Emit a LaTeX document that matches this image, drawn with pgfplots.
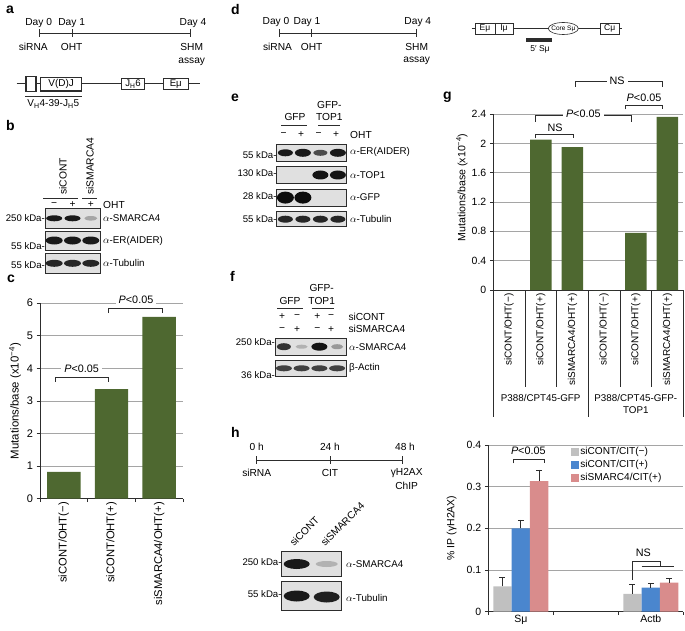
\documentclass[border=0pt]{standalone}
\usepackage{pgfplots}
\pgfplotsset{compat=1.18}
\usepackage{fontspec}
\setmainfont{Liberation Sans}
\setsansfont{Liberation Sans}

\definecolor{barg}{RGB}{78,104,48}
\definecolor{bgray}{RGB}{192,192,192}
\definecolor{bblue}{RGB}{74,134,206}
\definecolor{bpink}{RGB}{217,140,140}
\definecolor{gridc}{RGB}{165,165,165}
\definecolor{ink}{RGB}{45,45,45}

\newcommand\fs[1]{\fontsize{#1}{#1}\selectfont}
% blot box and band (x, y, x radius, y radius, darkness)
\newcommand\blot[4]{\draw[ink, line width=0.7pt, fill=black!12] (#1,#2) rectangle (#3,#4);}
\newcommand\band[5]{\fill[black!#5] (#1,#2) ellipse [x radius=#3pt, y radius=#4pt];}
\newcommand\brk[5]{\draw[ink, line width=0.8pt] (#1,#4) -- (#1,#3) -- (#2,#3) -- (#2,#5);}

\pgfplotsset{
  panel/.style={
    scale only axis, anchor=south west,
    axis x line*=bottom, axis y line*=left,
    ymajorgrids, grid style={draw=gridc, line width=0.6pt},
    axis line style={ink, line width=0.8pt},
    tick style={ink, line width=0.8pt},
    tick align=outside, major tick length=3.5pt,
    /pgf/number format/assume math mode=true,
    xticklabels={}, clip=false,
  },
  errs/.style={error bars/.cd, y dir=plus, y explicit,
    error bar style={ink, line width=0.8pt},
    error mark options={rotate=90, ink, line width=0.8pt, mark size=3pt}},
}

\begin{document}
\begin{tikzpicture}
\path[use as bounding box] (0,0) rectangle (685pt,-631pt);

% ---- c
\begin{axis}[panel, at={(40pt,-498.7pt)}, width=143pt, height=195.6pt,
  xmin=-0.5, xmax=2.5, ymin=0, ymax=6, ytick={0,1,2,3,4,5,6},
  xtick={-0.5,0.5,1.5,2.5},
  extra x ticks={0,1,2},
  extra x tick labels={siCONT/OHT(−),siCONT/OHT(+),siSMARCA4/OHT(+)},
  extra x tick style={major tick length=0pt,
    xticklabel style={rotate=90, anchor=east, font=\fs{11.2}}},
  yticklabel style={font=\fs{11}},
]
\addplot[ybar, bar width=0.7, fill=barg, draw=none]
  coordinates {(0,0.82) (1,3.36) (2,5.58)};
\end{axis}

% ---- g
\begin{axis}[panel, at={(493.3pt,-290pt)}, width=190pt, height=176pt,
  xmin=-0.5, xmax=5.5, ymin=0, ymax=2.4, ytick={0,0.4,0.8,1.2,1.6,2,2.4},
  xtick=\empty,
  extra x ticks={0,1,2,3,4,5},
  extra x tick labels={siCONT/OHT(−),siCONT/OHT(+),siSMARCA4/OHT(+),siCONT/OHT(−),siCONT/OHT(+),siSMARCA4/OHT(+)},
  extra x tick style={major tick length=0pt,
    xticklabel style={rotate=90, anchor=east, font=\fs{10}}},
  yticklabel style={font=\fs{10.5}},
]
\addplot[ybar, bar width=0.68, fill=barg, draw=none]
  coordinates {(0,0) (1,2.05) (2,1.95) (3,0) (4,0.78) (5,2.36)};
\end{axis}

% ---- h
\begin{axis}[panel, at={(488.3pt,-611.7pt)}, width=195pt, height=166.8pt,
  xmin=-0.5, xmax=2.5, ymin=0, ymax=0.4, ytick={0,0.1,0.2,0.3,0.4},
  xtick={-0.5,0.5,1.5,2.5},
  extra x ticks={0,2}, extra x tick labels={Sμ,Actb},
  extra x tick style={major tick length=0pt, xticklabel style={font=\fs{10.5}}},
  yticklabel style={font=\fs{10.5}},
  legend cell align=left,
  legend style={at={(rel axis cs:0.425,0.995)}, anchor=north west,
    draw=none, fill=none, font=\fs{10.1}, inner sep=0pt, row sep=1.2pt,
    nodes={inner sep=1.5pt},
    /tikz/every even column/.append style={column sep=2pt}},
]
\addplot[ybar, bar width=0.282, fill=bgray, draw=none,
  legend image code/.code={\fill[bgray] (0pt,-3.8pt) rectangle (7.5pt,3.8pt);}, errs]
  coordinates {(-0.282,0.061) +- (0,0.021) (1.718,0.0425) +- (0,0.022)};
\addlegendentry{siCONT/CIT(−)}
\addplot[ybar, bar width=0.282, fill=bblue, draw=none,
  legend image code/.code={\fill[bblue] (0pt,-3.8pt) rectangle (7.5pt,3.8pt);}, errs]
  coordinates {(0,0.2) +- (0,0.02) (2,0.058) +- (0,0.01)};
\addlegendentry{siCONT/CIT(+)}
\addplot[ybar, bar width=0.282, fill=bpink, draw=none,
  legend image code/.code={\fill[bpink] (0pt,-3.8pt) rectangle (7.5pt,3.8pt);}, errs]
  coordinates {(0.282,0.313) +- (0,0.027) (2.282,0.07) +- (0,0.009)};
\addlegendentry{siSMARC4/CIT(+)}
\end{axis}

\begin{scope}[x=1pt, y=-1pt, every node/.style={inner sep=0pt, font=\fs{10.2}}]
% panel letters
\foreach \l/\x/\y in {a/6/14, b/6/131, c/7/282, d/231/15, e/231/101.5, f/230/281, g/443/100, h/231/437}
  {\node[anchor=base west, font=\fs{14}\bfseries] at (\x,\y) {\l};}

% ---- a: timeline and locus
\draw[ink, line width=0.8pt] (39.3,33.3) -- (190,33.3);
\foreach \x in {39.3,72.7,190} {\draw[ink, line width=0.8pt] (\x,29.3) -- (\x,37.3);}
\node at (38.7,23.3) {Day 0};
\node at (71.7,23.3) {Day 1};
\node at (193,23.3) {Day 4};
\node at (33.3,46.7) {siRNA};
\node at (71.7,46.7) {OHT};
\node at (191.7,46.7) {SHM};
\node at (191.7,61.7) {assay};
\draw[ink, line width=1.2pt] (16.7,83.7) -- (200,83.7);
\draw[ink, line width=1.3pt, fill=white] (26,76.5) rectangle (36,91.5);
\draw[ink, line width=1.3pt, fill=white] (40.7,77.3) rectangle (81.7,91);
\node[font=\fs{10}] at (61.2,84.2) {V(D)J};
\draw[ink, line width=1.3pt, fill=white] (121.7,78.3) rectangle (144.3,89.3);
\node[font=\fs{9.6}] at (133,84) {J\textsubscript{H}6};
\draw[ink, line width=1.3pt, fill=white] (163.3,78.3) rectangle (188.3,89.3);
\node[font=\fs{9.6}] at (175.8,84) {Eμ};
\draw[ink, line width=1.5pt] (25,96.7) -- (81.7,96.7);
\node[font=\fs{10}] at (53.3,104) {V\textsubscript{H}4-39-J\textsubscript{H}5};

% ---- b: blot
\node[rotate=90, anchor=west, font=\fs{10.3}] at (63,195) {siCONT};
\node[rotate=90, anchor=west, font=\fs{10.3}] at (90,195) {siSMARCA4};
\draw[ink, line width=0.8pt] (43.3,198.3) -- (78.3,198.3);
\draw[ink, line width=0.8pt] (82,198.3) -- (97,198.3);
\node at (54.2,205) {−};
\node at (72.5,205) {+};
\node at (90.8,205) {+};
\node[anchor=west] at (103,205) {OHT};
\blot{45}{208.3}{100}{228.3}
\band{54.2}{218.3}{8}{3}{90}
\band{72.5}{218.3}{8}{3}{90}
\band{90.8}{218.3}{6.5}{2.3}{35}
\blot{45}{231.7}{100}{250}
\foreach \x in {54.2,72.5,90.8} {\band{\x}{240.5}{8.5}{4}{90}}
\blot{45}{253.3}{100}{273.3}
\foreach \x in {54.2,72.5,90.8} {\band{\x}{263.3}{8.5}{3.5}{85}}
\node[anchor=east, font=\fs{9.6}] at (45,218.3) {250 kDa-};
\node[anchor=east, font=\fs{9.6}] at (45,246) {55 kDa-};
\node[anchor=east, font=\fs{9.6}] at (45,265) {55 kDa-};
\node[anchor=west, font=\fs{9.8}] at (103,218.3) {$\alpha$-SMARCA4};
\node[anchor=west, font=\fs{9.8}] at (103,241) {$\alpha$-ER(AIDER)};
\node[anchor=west, font=\fs{9.8}] at (103,263.3) {$\alpha$-Tubulin};

% ---- c: labels and brackets
\node[rotate=90, font=\fs{11.4}] at (15,401) {Mutations/base (x10\textsuperscript{−4})};
\brk{55}{108}{377.3}{381.7}{381.7}
\node[fill=white, inner xsep=3pt, inner ysep=1pt, font=\fs{10.8}] at (81.7,368.3) {\textit{P}<0.05};
\brk{108}{162}{308.3}{313}{313}
\node[fill=white, inner xsep=3pt, inner ysep=1pt, font=\fs{10.8}] at (136,300) {\textit{P}<0.05};

% ---- d: timeline and locus
\draw[ink, line width=0.8pt] (279.3,33.3) -- (416,33.3);
\foreach \x in {279.3,311,416} {\draw[ink, line width=0.8pt] (\x,29.3) -- (\x,37.3);}
\node at (276,21.7) {Day 0};
\node at (307,21.7) {Day 1};
\node at (417.8,21.7) {Day 4};
\node at (277.5,46.7) {siRNA};
\node at (311.7,46.7) {OHT};
\node at (416.7,46.7) {SHM};
\node at (416.7,60.7) {assay};
\draw[ink, line width=0.8pt] (471.7,28.5) -- (621.7,28.5);
\draw[ink, line width=1.7pt] (513.3,28.5) -- (548.3,28.5);
\draw[ink, line width=0.6pt, fill=white] (475,23) rectangle (513.3,34);
\draw[ink, line width=0.6pt] (495,23) -- (495,34);
\node[font=\fs{8.5}] at (485,28.5) {Eμ};
\node[font=\fs{8.5}] at (504,28.5) {Iμ};
\draw[ink, line width=0.6pt, fill=white] (563.3,28.5) ellipse [x radius=15pt, y radius=6pt];
\node[font=\fs{6.5}] at (563.3,28.5) {Core Sμ};
\draw[ink, line width=0.6pt, fill=white] (600,23) rectangle (619.3,34);
\node[font=\fs{8.5}] at (609.7,28.5) {Cμ};
\draw[ink, line width=3.3pt] (526,40) -- (551.7,40);
\node[font=\fs{8.5}] at (540,49) {5′ Sμ};

% ---- e: blot
\node at (295,116.5) {GFP};
\node at (329.3,104.5) {GFP-};
\node at (329.3,116.5) {TOP1};
\draw[ink, line width=0.8pt] (281,125) -- (306.7,125);
\draw[ink, line width=0.8pt] (318.3,125) -- (340,125);
\foreach \x/\s in {283.5/−,301/+,318.5/−,336/+} {\node at (\x,135) {\s};}
\node[anchor=west] at (350,135) {OHT};
\blot{276.7}{144}{346.7}{161.7}
\band{285.4}{152.8}{7.5}{3.5}{90}
\band{302.9}{152.8}{8}{4}{90}
\band{320.4}{152.8}{7}{3}{70}
\band{337.9}{152.8}{8}{4}{90}
\blot{276.7}{166.7}{346.7}{183.3}
\band{320.4}{175}{8}{4.5}{92}
\band{337.9}{175}{8}{4.5}{92}
\blot{276.7}{189.3}{346.7}{206}
\band{285.4}{197.6}{8.5}{6}{95}
\band{302.9}{197.6}{8.5}{6}{95}
\blot{276.7}{211.7}{346.7}{226.7}
\foreach \x in {285.4,302.9,320.4,337.9} {\band{\x}{219.2}{7.5}{3.5}{85}}
\node[anchor=east, font=\fs{9.6}] at (276.7,155) {55 kDa-};
\node[anchor=east, font=\fs{9.6}] at (276.7,173) {130 kDa-};
\node[anchor=east, font=\fs{9.6}] at (276.7,196) {28 kDa-};
\node[anchor=east, font=\fs{9.6}] at (276.7,219.3) {55 kDa-};
\node[anchor=west, font=\fs{9.8}] at (350,152) {$\alpha$-ER(AIDER)};
\node[anchor=west, font=\fs{9.8}] at (350,175) {$\alpha$-TOP1};
\node[anchor=west, font=\fs{9.8}] at (350,197.5) {$\alpha$-GFP};
\node[anchor=west, font=\fs{9.8}] at (350,219) {$\alpha$-Tubulin};

% ---- f: blot
\node at (290,301) {GFP};
\node at (321.7,288.3) {GFP-};
\node at (321.7,301) {TOP1};
\draw[ink, line width=0.8pt] (277.3,308.3) -- (303.3,308.3);
\draw[ink, line width=0.8pt] (311.7,308.3) -- (334.3,308.3);
\foreach \x/\s in {282/+,297/−,317.3/+,331/−} {\node at (\x,316.7) {\s};}
\foreach \x/\s in {282/−,297/+,317.3/−,331/+} {\node at (\x,329.3) {\s};}
\node[anchor=west] at (348.3,316.7) {siCONT};
\node[anchor=west] at (348.3,329.3) {siSMARCA4};
\blot{275}{338.3}{346}{355}
\band{283.9}{346.7}{7}{3.5}{80}
\band{301.6}{346.7}{6}{2}{30}
\band{319.4}{346.7}{8}{4}{92}
\band{337.1}{346.7}{6}{2.5}{40}
\blot{275}{360}{346}{376.7}
\foreach \x in {283.9,301.6,319.4,337.1} {\band{\x}{368.3}{8}{3}{75}}
\node[anchor=east, font=\fs{9.6}] at (275,341.7) {250 kDa-};
\node[anchor=east, font=\fs{9.6}] at (275,375) {36 kDa-};
\node[anchor=west, font=\fs{9.8}] at (349,347) {$\alpha$-SMARCA4};
\node[anchor=west, font=\fs{9.8}] at (349,368) {β-Actin};

% ---- g: separators, labels, brackets
\foreach \x in {525,556.7,620,651.7} {\draw[ink, line width=0.8pt] (\x,290) -- (\x,386.7);}
\foreach \x in {493.3,588.3,683.3} {\draw[ink, line width=0.8pt] (\x,290) -- (\x,416.7);}
\node[font=\fs{9.8}] at (540.7,398.3) {P388/CPT45-GFP};
\node[font=\fs{9.8}] at (635.8,398.3) {P388/CPT45-GFP-};
\node[font=\fs{9.8}] at (635.8,410.5) {TOP1};
\node[rotate=90, font=\fs{10.6}] at (462,187.5) {Mutations/base (x10\textsuperscript{−4})};
\brk{575}{662.7}{81}{86.7}{86.7}
\node[fill=white, inner xsep=3pt, inner ysep=1pt, font=\fs{10.8}] at (617,81) {NS};
\brk{625}{662.7}{105}{109.3}{109.3}
\node[font=\fs{10.8}] at (644,97.3) {\textit{P}<0.05};
\brk{535}{631.7}{115}{121.7}{121.7}
\node[fill=white, inner xsep=3pt, inner ysep=1pt, font=\fs{10.8}] at (583.3,113.8) {\textit{P}<0.05};
\brk{535}{573.3}{134.3}{138.3}{138.3}
\node[font=\fs{10.8}] at (555,127.3) {NS};

% ---- h: timeline, blot, chart labels
\draw[ink, line width=0.8pt] (256.7,460) -- (402.3,460);
\foreach \x in {256.7,330,402.3} {\draw[ink, line width=0.8pt] (\x,456) -- (\x,464);}
\node at (256.7,446.7) {0 h};
\node at (330,446.7) {24 h};
\node at (405,446.7) {48 h};
\node at (256.7,472.7) {siRNA};
\node at (330,472.7) {CIT};
\node at (406.7,472.7) {γH2AX};
\node at (406.7,486) {ChIP};
\node[rotate=45, anchor=base west] at (294,547) {siCONT};
\node[rotate=45, anchor=base west] at (325,547) {siSMARCA4};
\blot{281.7}{551.7}{341.7}{576.7}
\band{296.7}{564}{13}{5}{90}
\band{326.7}{564}{11}{3}{30}
\blot{281.7}{581.7}{341.7}{610}
\band{296.7}{596}{13}{5.5}{90}
\band{326.7}{597}{13}{5.5}{88}
\node[anchor=east, font=\fs{9.6}] at (281.7,561.7) {250 kDa-};
\node[anchor=east, font=\fs{9.6}] at (281.7,594.3) {55 kDa-};
\node[anchor=west, font=\fs{9.8}] at (346,564.3) {$\alpha$-SMARCA4};
\node[anchor=west, font=\fs{9.8}] at (346,598.3) {$\alpha$-Tubulin};
\node[rotate=90, font=\fs{10.5}] at (451.7,528) {\% IP (γH2AX)};
\brk{513.3}{544.3}{459}{463.3}{463.3}
\node[fill=white, inner xsep=3pt, inner ysep=1pt, font=\fs{10.8}] at (528.3,450.7) {\textit{P}<0.05};
\draw[ink, line width=0.8pt] (632.3,580) -- (632.3,561.7) -- (660,561.7) -- (660,566.7);
\draw[ink, line width=0.8pt] (641.7,566.7) -- (674,566.7);
\node[font=\fs{10.8}] at (643.3,552.7) {NS};
\end{scope}
\end{tikzpicture}
\end{document}
